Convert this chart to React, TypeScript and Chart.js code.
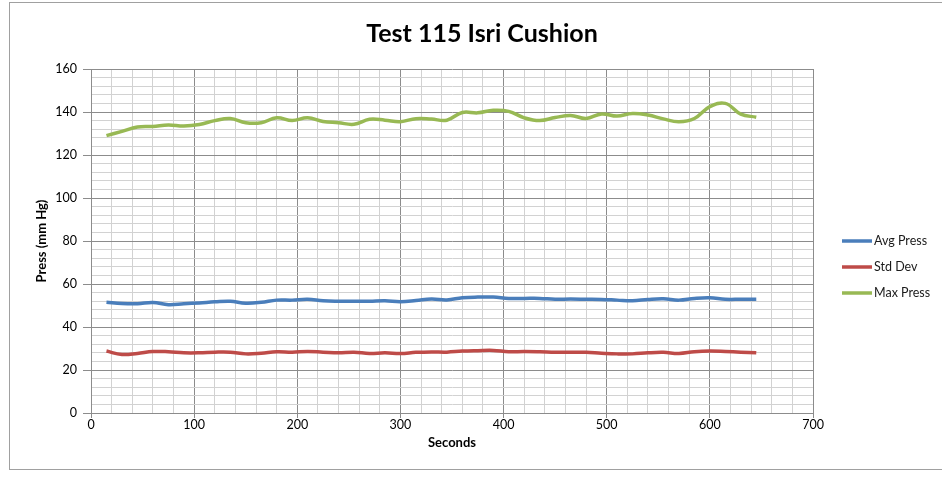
import React, { useEffect, useRef } from "react";
import { Chart, registerables } from "chart.js";

Chart.register(...registerables);

const chartTitle = "Test 115 Isri Cushion";
const xAxisTitle = "Seconds";
const yAxisTitle = "Press (mm Hg)";

const seconds = [
  15, 30, 45, 60, 75, 90, 105, 120, 135, 150, 165, 180, 195, 210, 225, 240, 255, 270, 285, 300, 315, 330,
  345, 360, 375, 390, 405, 420, 435, 450, 465, 480, 495, 510, 525, 540, 555, 570, 585, 600, 615, 630, 645,
];

const avgPress = [
  51.5, 50.9, 50.8, 51.4, 50.4, 50.8, 51.2, 51.7, 52, 51.1, 51.5, 52.5, 52.5, 52.9, 52.2, 52, 52, 52, 52.2, 51.8, 52.3, 53,
  52.6, 53.6, 53.9, 53.9, 53.3, 53.3, 53.3, 52.9, 53, 52.9, 52.8, 52.5, 52.2, 52.8, 53.1, 52.5, 53.3, 53.6, 52.9, 52.9, 52.9,
];

const stdDev = [
  28.8, 27.2, 27.7, 28.6, 28.5, 28, 28, 28.3, 28.3, 27.5, 27.8, 28.5, 28.3, 28.6, 28.3, 28, 28.3, 27.7, 28, 27.7, 28.2, 28.4,
  28.3, 28.8, 29, 29.1, 28.5, 28.6, 28.5, 28.3, 28.3, 28.2, 27.8, 27.5, 27.5, 28, 28.2, 27.7, 28.5, 28.8, 28.6, 28.3, 28,
];

const maxPress = [
  129, 131, 133, 133.3, 134, 133.5, 134.2, 136, 137, 135, 135, 137.3, 136, 137.3, 135.6, 135, 134.3, 136.6, 136.2, 135.5, 136.9, 136.7,
  136.2, 139.8, 139.6, 140.8, 140.3, 137.3, 136, 137.4, 138.4, 137, 139.1, 138.1, 139.3, 138.6, 136.8, 135.5, 137, 142.5, 144, 139, 137.6,
];

const seriesNames = ["Avg Press", "Std Dev", "Max Press"];
const seriesColors = ["#4A7EBB", "#BE4B48", "#98B954"];

const xMin = 0;
const xMax = 700;
const xMajorStep = 100;
const xMinorStep = 20;
const yMin = 0;
const yMax = 160;
const yMajorStep = 20;
const yMinorStep = 4;

const FONT = "Lato, 'Open Sans', sans-serif";
const MAJOR = "#8c8c8c";
const MINOR = "#d2d2d2";

const decorPlugin = {
  id: "decor",
  beforeDraw(chart: any) {
    const ctx = chart.ctx;
    ctx.save();
    ctx.fillStyle = "#ffffff";
    ctx.fillRect(0, 0, chart.width, chart.height);
    ctx.strokeStyle = "#a0a0a0";
    ctx.lineWidth = 1;
    ctx.strokeRect(9.5, 2.5, 1000, 467);
    ctx.restore();
  },
  afterDraw(chart: any) {
    const ctx = chart.ctx;
    ctx.save();
    ctx.fillStyle = "#000000";
    ctx.font = `bold 25px ${FONT}`;
    ctx.textAlign = "center";
    ctx.textBaseline = "middle";
    ctx.fillText(chartTitle, 482, 34);

    const ds = chart.data.datasets;
    ctx.font = `12.5px ${FONT}`;
    ctx.textAlign = "left";
    ds.forEach((d: any, i: number) => {
      const y = 241 + i * 26;
      ctx.strokeStyle = d.borderColor;
      ctx.lineWidth = 3.5;
      ctx.beginPath();
      ctx.moveTo(842, y);
      ctx.lineTo(872, y);
      ctx.stroke();
      ctx.fillStyle = "#1a1a1a";
      ctx.fillText(d.label, 874, y);
    });
    ctx.restore();
  },
};

export default function App() {
  const ref = useRef<HTMLCanvasElement>(null);

  useEffect(() => {
    document.body.style.margin = "0";
    const series = [avgPress, stdDev, maxPress];
    const chart = new Chart(ref.current as HTMLCanvasElement, {
      type: "line",
      data: {
        datasets: series.map((vals, i) => ({
          label: seriesNames[i],
          data: seconds.map((s, j) => ({ x: s, y: vals[j] })),
          borderColor: seriesColors[i],
          backgroundColor: seriesColors[i],
          borderWidth: 3.5,
          pointRadius: 0,
          tension: 0.4,
          fill: false,
        })),
      },
      options: {
        responsive: false,
        animation: false,
        devicePixelRatio: 1,
        layout: { padding: { left: 30, right: 129, top: 69, bottom: 20 } },
        plugins: {
          legend: { display: false },
          title: { display: false },
          tooltip: { enabled: false },
        },
        scales: {
          x: {
            type: "linear",
            min: xMin,
            max: xMax,
            afterFit: (scale: any) => {
              scale.height = 48;
            },
            ticks: {
              stepSize: xMinorStep,
              autoSkip: false,
              maxRotation: 0,
              padding: -1,
              color: "#000",
              font: { family: FONT, size: 12.5 },
              callback: (v: any) => (Math.round(v) % xMajorStep === 0 ? String(Math.round(v)) : ""),
            },
            grid: {
              color: (c: any) => (c.tick && Math.round(c.tick.value) % xMajorStep === 0 ? MAJOR : MINOR),
              tickColor: (c: any) => (c.tick && Math.round(c.tick.value) % xMajorStep === 0 ? MAJOR : "rgba(0,0,0,0)"),
              tickLength: 5,
              lineWidth: 1,
            },
            border: { color: MAJOR },
            title: {
              display: true,
              text: xAxisTitle,
              color: "#000",
              font: { family: FONT, size: 13, weight: "bold" },
              padding: { top: 4, bottom: 10 },
            },
          },
          y: {
            type: "linear",
            min: yMin,
            max: yMax,
            afterFit: (scale: any) => {
              scale.width = 61;
            },
            ticks: {
              stepSize: yMinorStep,
              autoSkip: false,
              padding: 6,
              color: "#000",
              font: { family: FONT, size: 12.5 },
              callback: (v: any) => (Math.round(v) % yMajorStep === 0 ? String(Math.round(v)) : ""),
            },
            grid: {
              color: (c: any) => (c.tick && Math.round(c.tick.value) % yMajorStep === 0 ? MAJOR : MINOR),
              tickColor: (c: any) => (c.tick && Math.round(c.tick.value) % yMajorStep === 0 ? MAJOR : "rgba(0,0,0,0)"),
              tickLength: 8,
              lineWidth: 1,
            },
            border: { color: MAJOR },
            title: {
              display: true,
              text: yAxisTitle,
              color: "#000",
              font: { family: FONT, size: 13, weight: "bold" },
              padding: { top: 4, bottom: 4 },
            },
          },
        },
      },
      plugins: [decorPlugin],
    });
    return () => chart.destroy();
  }, []);

  return (
    <div style={{ position: "relative", width: 942, height: 481 }}>
      <canvas ref={ref} width={942} height={481} style={{ display: "block" }} />
    </div>
  );
}
